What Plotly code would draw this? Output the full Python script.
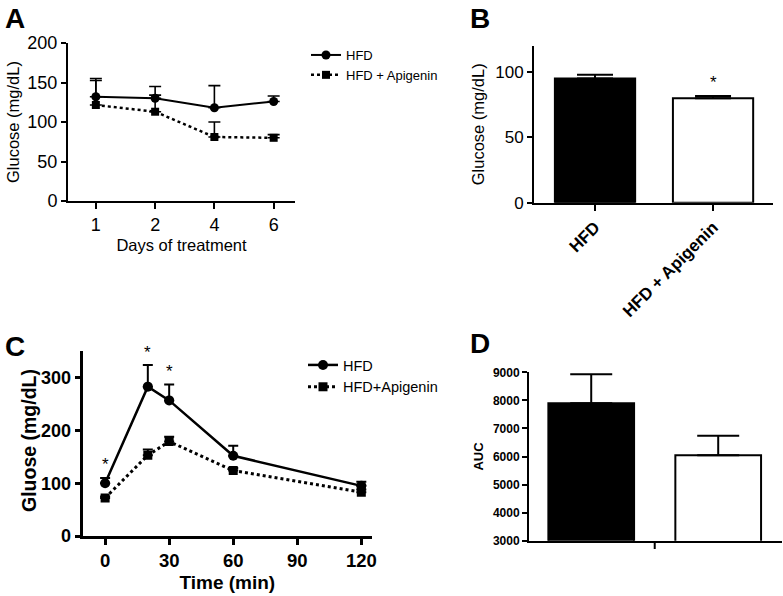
import plotly.graph_objects as go

FONT = "Liberation Sans, Arial, sans-serif"

# Panel A
days = ["1", "2", "4", "6"]
a_hfd = [132, 130, 118, 126]
a_hfd_err = [23, 15, 28, 7]
a_api = [121.5, 113, 81, 80]
a_api_err = [31, 21, 19, 4]
a_sig_days = ["4", "6"]

# Panel B
b_groups = ["HFD", "HFD + Apigenin"]
b_vals = [95, 80]
b_err = [3, 1.6]

# Panel C
c_time = [0, 20, 30, 60, 120]
c_hfd = [100, 283, 257, 152, 95]
c_hfd_err = [10, 41, 30, 19, 8]
c_api = [72, 153, 179, 124, 83]
c_api_err = [3, 11, 9, 5, 5]
c_sig_times = [0, 20, 30]

# Panel D
d_groups = ["HFD", "HFD+Apigenin"]
d_vals = [7900, 6045]
d_err = [1030, 690]

fig = go.Figure()

# ---- A ----
fig.add_trace(go.Scatter(
    x=days, y=a_hfd, mode="lines+markers", name="HFD",
    line=dict(color="black", width=2),
    marker=dict(symbol="circle", size=9, color="black"),
    error_y=dict(type="data", array=a_hfd_err, arrayminus=[0]*4, symmetric=False,
                 color="black", thickness=1.6, width=6),
    xaxis="x", yaxis="y", legend="legend"))
fig.add_trace(go.Scatter(
    x=days, y=a_api, mode="lines+markers", name="HFD + Apigenin",
    line=dict(color="black", width=2.5, dash="dot"),
    marker=dict(symbol="square", size=8, color="black"),
    error_y=dict(type="data", array=a_api_err, arrayminus=[0]*4, symmetric=False,
                 color="black", thickness=1.6, width=6),
    xaxis="x", yaxis="y", legend="legend"))

# ---- B ----
fig.add_trace(go.Bar(
    x=b_groups, y=b_vals, width=0.68,
    marker=dict(color=["black", "white"], line=dict(color="black", width=2)),
    error_y=dict(type="data", array=b_err, arrayminus=[0, 0], symmetric=False,
                 color="black", thickness=2, width=18),
    xaxis="x2", yaxis="y2", showlegend=False))

# ---- C ----
fig.add_trace(go.Scatter(
    x=c_time, y=c_hfd, mode="lines+markers", name="HFD",
    line=dict(color="black", width=2.5),
    marker=dict(symbol="circle", size=10, color="black"),
    error_y=dict(type="data", array=c_hfd_err, arrayminus=[0]*5, symmetric=False,
                 color="black", thickness=2, width=5),
    xaxis="x3", yaxis="y3", legend="legend2"))
fig.add_trace(go.Scatter(
    x=c_time, y=c_api, mode="lines+markers", name="HFD+Apigenin",
    line=dict(color="black", width=3, dash="dot"),
    marker=dict(symbol="square", size=9, color="black"),
    error_y=dict(type="data", array=c_api_err, arrayminus=[0]*5, symmetric=False,
                 color="black", thickness=2, width=5),
    xaxis="x3", yaxis="y3", legend="legend2"))

# ---- D ----
fig.add_trace(go.Bar(
    x=d_groups, y=d_vals, width=0.675,
    marker=dict(color=["black", "white"], line=dict(color="black", width=2)),
    error_y=dict(type="data", array=d_err, arrayminus=[0, 0], symmetric=False,
                 color="black", thickness=2, width=21),
    xaxis="x4", yaxis="y4", showlegend=False))

ann = []
# asterisks
for d in a_sig_days:
    i = days.index(d)
    ann.append(dict(x=d, y=a_api[i], xref="x", yref="y", text="*", showarrow=False,
                    yshift=-28, font=dict(size=17, family=FONT, color="black")))
ann.append(dict(x=b_groups[1], y=b_vals[1] + b_err[1], xref="x2", yref="y2", text="*",
                showarrow=False, yshift=14, font=dict(size=17, family=FONT, color="black")))
for t in c_sig_times:
    i = c_time.index(t)
    ann.append(dict(x=t, y=c_hfd[i] + c_hfd_err[i], xref="x3", yref="y3", text="*",
                    showarrow=False, yshift=13, font=dict(size=17, family=FONT, color="black")))
# panel letters
for letter, px, py in [("A", 3, 1), ("B", 468, 1), ("C", 3, 329), ("D", 468, 326)]:
    ann.append(dict(x=px / 783, y=1 - py / 596, xref="paper", yref="paper", text="<b>%s</b>" % letter,
                    showarrow=False, xanchor="left", yanchor="top",
                    font=dict(size=28, family=FONT, color="black")))
# y-axis titles for A and C
ann.append(dict(x=13 / 783, y=1 - 122 / 596, xref="paper", yref="paper", text="Glucose (mg/dL)",
                textangle=-90, showarrow=False, xanchor="center", yanchor="middle",
                font=dict(size=16.5, family=FONT, color="black")))
ann.append(dict(x=29 / 783, y=1 - 441 / 596, xref="paper", yref="paper", text="<b>Gluose (mg/dL)</b>",
                textangle=-90, showarrow=False, xanchor="center", yanchor="middle",
                font=dict(size=19.5, family=FONT, color="black")))

shapes = [dict(type="line", xref="x4", yref="paper", x0=0.5, x1=0.5,
               y0=1 - 541 / 596, y1=1 - 549 / 596, line=dict(color="black", width=2))]

axis_common = dict(showline=True, linecolor="black", showgrid=False, zeroline=False,
                   tickcolor="black", mirror=False, automargin=False)

fig.update_layout(
    width=783, height=596, margin=dict(l=0, r=0, t=0, b=0),
    paper_bgcolor="white", plot_bgcolor="white",
    font=dict(family=FONT, color="black"),
    annotations=ann, shapes=shapes,
    xaxis=dict(**axis_common, domain=[68 / 783, 295 / 783], anchor="y", ticks="outside",
               type="category", range=[-0.47, 3.36], linewidth=2, tickwidth=2, ticklen=6,
               tickfont=dict(size=18),
               title=dict(text="Days of treatment", font=dict(size=16.5), standoff=6)),
    yaxis=dict(**axis_common, domain=[1 - 201 / 596, 1 - 43 / 596], anchor="x", ticks="outside",
               range=[0, 200], dtick=50, linewidth=2, tickwidth=2, ticklen=5,
               tickfont=dict(size=18)),
    xaxis2=dict(**axis_common, domain=[534 / 783, 773 / 783], anchor="y2", ticks="outside",
                type="category", range=[-0.517, 1.508], linewidth=2, tickwidth=2, ticklen=6,
                tickangle=-45, tickfont=dict(size=17, weight="bold")),
    yaxis2=dict(**axis_common, domain=[1 - 202.7 / 596, 1 - 45.9 / 596], anchor="x2", ticks="outside",
                range=[0, 120], tickvals=[0, 50, 100], linewidth=2, tickwidth=2, ticklen=5,
                tickfont=dict(size=17),
                title=dict(text="Glucose (mg/dL)", font=dict(size=16.5), standoff=6)),
    xaxis3=dict(**axis_common, domain=[82.7 / 783, 372 / 783], anchor="y3", ticks="outside",
                range=[-10.5, 125], tickvals=[0, 30, 60, 90, 120], linewidth=3, tickwidth=3, ticklen=6,
                tickfont=dict(size=18.5, weight="bold"),
                title=dict(text="<b>Time (min)</b>", font=dict(size=19), standoff=6)),
    yaxis3=dict(**axis_common, domain=[1 - 536 / 596, 1 - 351.3 / 596], anchor="x3", ticks="outside",
                range=[0, 350], tickvals=[0, 100, 200, 300], linewidth=3, tickwidth=3, ticklen=5,
                tickfont=dict(size=18, weight="bold")),
    xaxis4=dict(**axis_common, domain=[529 / 783, 781.7 / 783], anchor="y4", ticks="",
                type="category", range=[-0.49, 1.50], linewidth=2, showticklabels=False),
    yaxis4=dict(**axis_common, domain=[1 - 540.7 / 596, 1 - 372.3 / 596], anchor="x4", ticks="outside",
                range=[3000, 9000], dtick=1000, linewidth=2, tickwidth=2, ticklen=5,
                tickfont=dict(size=12, weight="bold"),
                title=dict(text="<b>AUC</b>", font=dict(size=13), standoff=6)),
    legend=dict(x=306 / 783, y=1 - 40 / 596, xanchor="left", yanchor="top",
                font=dict(size=13), bgcolor="rgba(0,0,0,0)", tracegroupgap=0),
    legend2=dict(x=303 / 783, y=1 - 349 / 596, xanchor="left", yanchor="top",
                 font=dict(size=14.5), bgcolor="rgba(0,0,0,0)", tracegroupgap=0),
)

fig.write_html("out.html", post_script="document.body.style.margin='0';",
               config={"displayModeBar": False})
